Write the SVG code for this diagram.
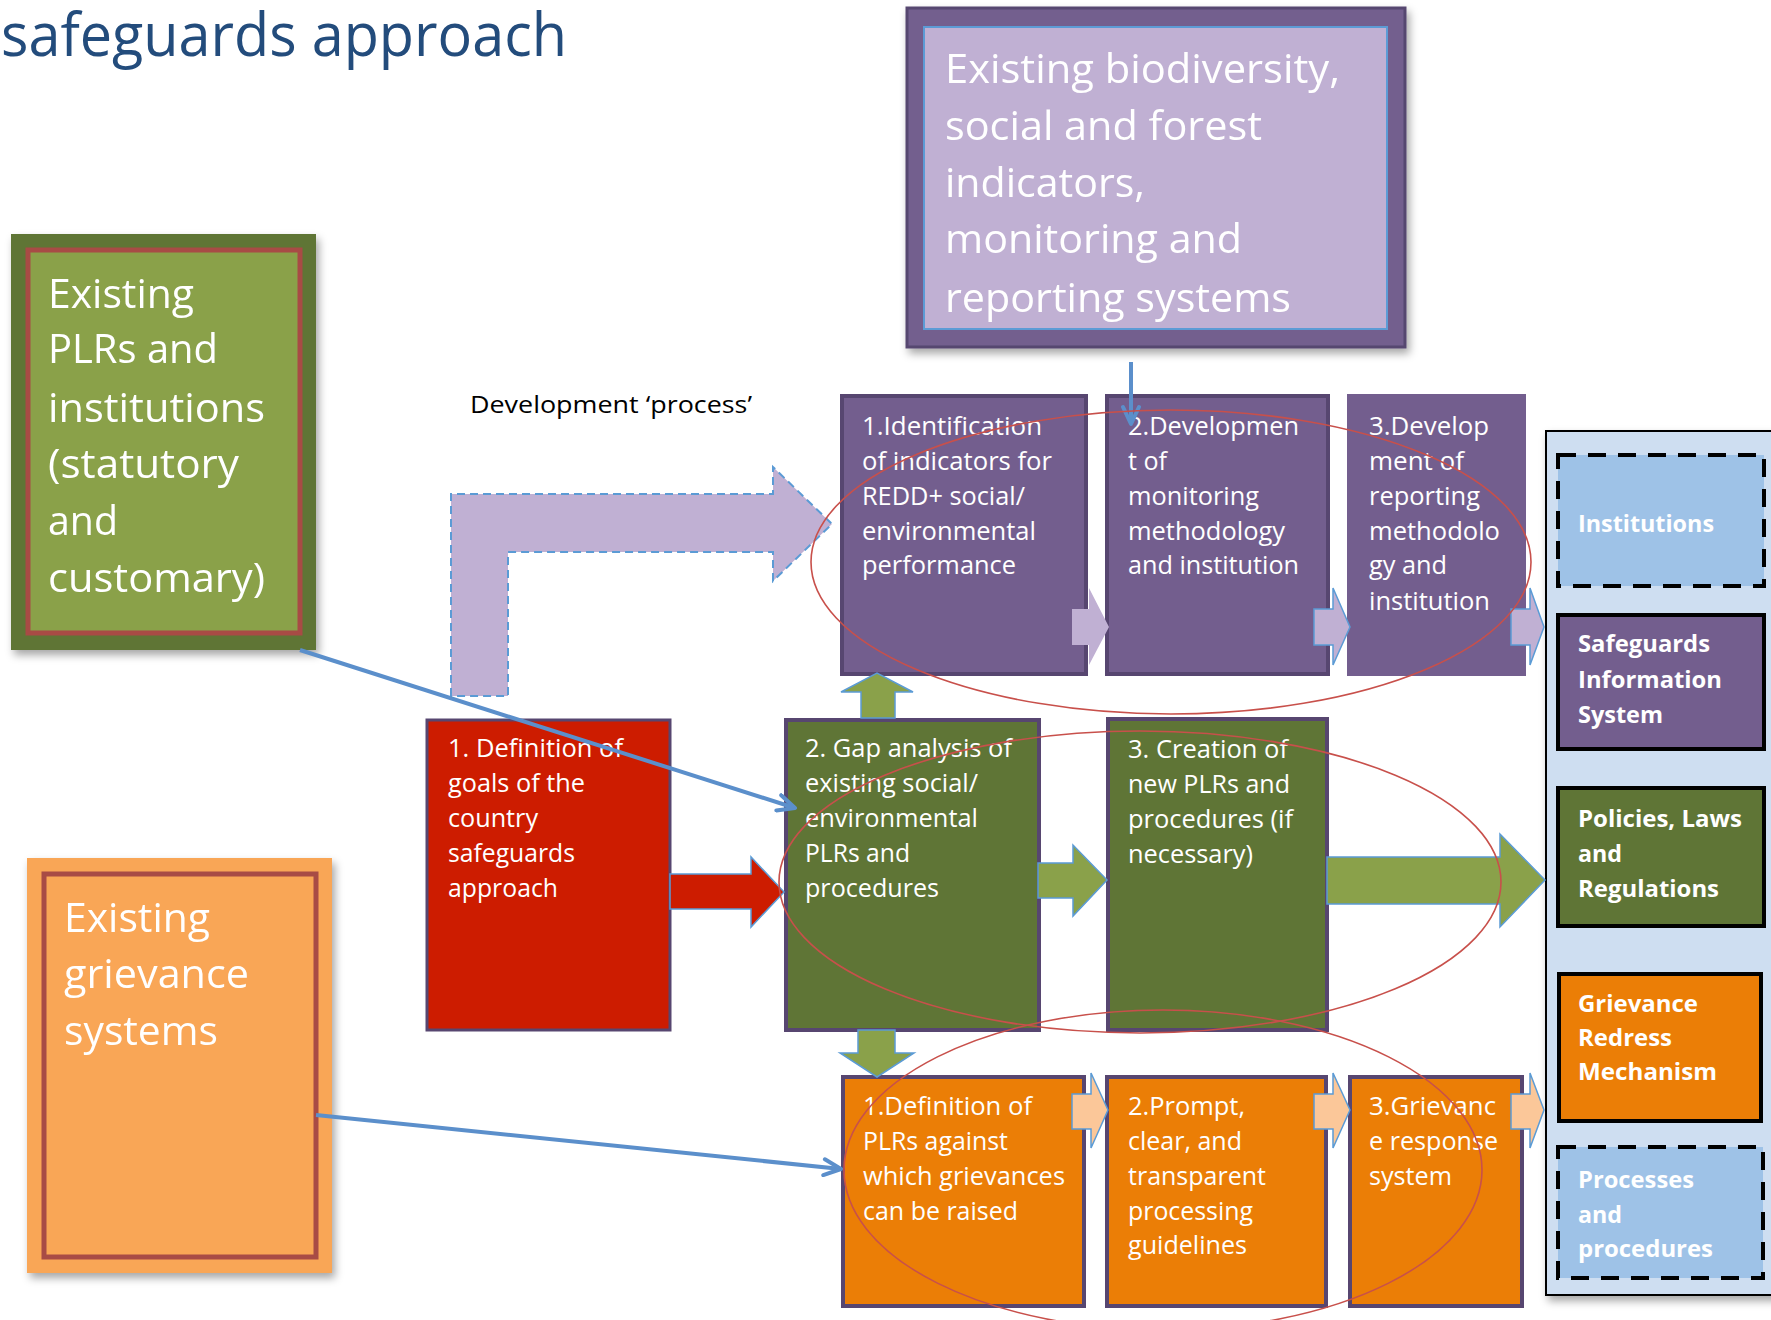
<svg xmlns="http://www.w3.org/2000/svg" width="1771" height="1320" viewBox="0 0 1771 1320">
<defs>
<filter id="sh" x="-10%" y="-10%" width="130%" height="130%"><feDropShadow dx="3" dy="5" stdDeviation="4" flood-color="#000" flood-opacity="0.35"/></filter>
<marker id="vh" markerUnits="userSpaceOnUse" markerWidth="24" markerHeight="20" viewBox="0 0 24 20" refX="20" refY="10" orient="auto"><path d="M3,2 L20,10 L3,18" fill="none" stroke="#5B8FCB" stroke-width="4" stroke-linejoin="round" stroke-linecap="round"/></marker>
</defs>
<style>
text{font-family:"Open Sans","Liberation Sans",sans-serif;fill:#fff}
.big{font-size:40px}
.t{font-size:26px}
.lg{font-size:24px;font-weight:bold}
.pbox{fill:#735E8E;stroke:#574670;stroke-width:4}
.gbox{fill:#5F7536;stroke:#574670;stroke-width:4}
.obox{fill:#EB7E06;stroke:#574670;stroke-width:4}
.parr{fill:#C0B0D3;stroke:#5B9BD5;stroke-width:1.5}
.garr{fill:#8AA14A;stroke:#5B9BD5;stroke-width:1.5}
.oarr{fill:#FBC799;stroke:#5B9BD5;stroke-width:1.5}
.ell{fill:none;stroke:#C8504B;stroke-width:1.6}
.blue{stroke:#5B8FCB;stroke-width:4;fill:none;marker-end:url(#vh)}
.leg{stroke:#000;stroke-width:4}
.dash{fill:#9EC2E7;stroke:#000;stroke-width:4;stroke-dasharray:18 12}
</style>
<rect width="1771" height="1320" fill="#fff"/>

<text id="title" x="1" y="56" style="font-size:60px;fill:#234C7C" textLength="566" lengthAdjust="spacingAndGlyphs">safeguards approach</text>

<g id="existing-indicators" filter="url(#sh)">
<rect x="907" y="8" width="498" height="339" fill="#735E8E" stroke="#574670" stroke-width="3"/>
<rect x="924" y="27" width="463" height="302" fill="#C0B0D3" stroke="#5B9BD5" stroke-width="2"/>
<text class="big" x="945" y="83" textLength="395" lengthAdjust="spacingAndGlyphs">Existing biodiversity,</text>
<text class="big" x="945" y="140" textLength="317" lengthAdjust="spacingAndGlyphs">social and forest</text>
<text class="big" x="945" y="197" textLength="200" lengthAdjust="spacingAndGlyphs">indicators,</text>
<text class="big" x="945" y="253" textLength="297" lengthAdjust="spacingAndGlyphs">monitoring and</text>
<text class="big" x="945" y="312" textLength="346" lengthAdjust="spacingAndGlyphs">reporting systems</text>
</g>

<g id="existing-plrs" filter="url(#sh)">
<rect x="11" y="234" width="305" height="416" fill="#5F7536"/>
<rect x="28" y="250" width="272" height="383" fill="#8AA14A" stroke="#A84B45" stroke-width="5"/>
<text class="big" x="48" y="308" textLength="146" lengthAdjust="spacingAndGlyphs">Existing</text>
<text class="big" x="48" y="363" textLength="170" lengthAdjust="spacingAndGlyphs">PLRs and</text>
<text class="big" x="48" y="422" textLength="217" lengthAdjust="spacingAndGlyphs">institutions</text>
<text class="big" x="48" y="478" textLength="191" lengthAdjust="spacingAndGlyphs">(statutory</text>
<text class="big" x="48" y="535" textLength="70" lengthAdjust="spacingAndGlyphs">and</text>
<text class="big" x="48" y="592" textLength="217" lengthAdjust="spacingAndGlyphs">customary)</text>
</g>

<g id="existing-grievance" filter="url(#sh)">
<rect x="27" y="858" width="305" height="415" fill="#F9A656"/>
<rect x="44" y="874" width="272" height="383" fill="#F9A656" stroke="#A84B45" stroke-width="5"/>
<text class="big" x="64" y="932" textLength="146" lengthAdjust="spacingAndGlyphs">Existing</text>
<text class="big" x="64" y="988" textLength="185" lengthAdjust="spacingAndGlyphs">grievance</text>
<text class="big" x="64" y="1045" textLength="154" lengthAdjust="spacingAndGlyphs">systems</text>
</g>

<text id="dev-process" x="470" y="413" style="font-size:23px;fill:#000" textLength="282" lengthAdjust="spacingAndGlyphs">Development ‘process’</text>

<g id="dev-arrow">
<path d="M451,696 L451,494 L773,494 L773,467 L832,524 L773,581 L773,552 L508,552 L508,696 Z" fill="#C0B0D3" stroke="#5B9BD5" stroke-width="2" stroke-dasharray="8 5"/>
</g>

<g id="p1">
<rect class="pbox" x="842" y="396" width="244" height="278"/>
<text class="t" x="862" y="435" textLength="180" lengthAdjust="spacingAndGlyphs">1.Identification</text>
<text class="t" x="862" y="470" textLength="190" lengthAdjust="spacingAndGlyphs">of indicators for</text>
<text class="t" x="862" y="505" textLength="163" lengthAdjust="spacingAndGlyphs">REDD+ social/</text>
<text class="t" x="862" y="540" textLength="174" lengthAdjust="spacingAndGlyphs">environmental</text>
<text class="t" x="862" y="574" textLength="154" lengthAdjust="spacingAndGlyphs">performance</text>
</g>
<g id="p2">
<rect class="pbox" x="1107" y="396" width="221" height="278"/>
<text class="t" x="1128" y="435" textLength="171" lengthAdjust="spacingAndGlyphs">2.Developmen</text>
<text class="t" x="1128" y="470" textLength="39" lengthAdjust="spacingAndGlyphs">t of</text>
<text class="t" x="1128" y="505" textLength="131" lengthAdjust="spacingAndGlyphs">monitoring</text>
<text class="t" x="1128" y="540" textLength="157" lengthAdjust="spacingAndGlyphs">methodology</text>
<text class="t" x="1128" y="574" textLength="171" lengthAdjust="spacingAndGlyphs">and institution</text>
</g>
<g id="p3">
<rect x="1347" y="394" width="179" height="282" fill="#735E8E"/>
<text class="t" x="1369" y="435" textLength="120" lengthAdjust="spacingAndGlyphs">3.Develop</text>
<text class="t" x="1369" y="470" textLength="95" lengthAdjust="spacingAndGlyphs">ment of</text>
<text class="t" x="1369" y="505" textLength="111" lengthAdjust="spacingAndGlyphs">reporting</text>
<text class="t" x="1369" y="540" textLength="131" lengthAdjust="spacingAndGlyphs">methodolo</text>
<text class="t" x="1369" y="574" textLength="78" lengthAdjust="spacingAndGlyphs">gy and</text>
<text class="t" x="1369" y="610" textLength="121" lengthAdjust="spacingAndGlyphs">institution</text>
</g>

<g id="g1">
<rect x="427" y="720" width="243" height="310" fill="#CD1C00" stroke="#574670" stroke-width="3"/>
<text class="t" x="448" y="757" textLength="175" lengthAdjust="spacingAndGlyphs">1. Definition of</text>
<text class="t" x="448" y="792" textLength="137" lengthAdjust="spacingAndGlyphs">goals of the</text>
<text class="t" x="448" y="827" textLength="90" lengthAdjust="spacingAndGlyphs">country</text>
<text class="t" x="448" y="862" textLength="127" lengthAdjust="spacingAndGlyphs">safeguards</text>
<text class="t" x="448" y="897" textLength="110" lengthAdjust="spacingAndGlyphs">approach</text>
</g>
<g id="g2">
<rect class="gbox" x="786" y="720" width="253" height="310"/>
<text class="t" x="805" y="757" textLength="207" lengthAdjust="spacingAndGlyphs">2. Gap analysis of</text>
<text class="t" x="805" y="792" textLength="173" lengthAdjust="spacingAndGlyphs">existing social/</text>
<text class="t" x="805" y="827" textLength="173" lengthAdjust="spacingAndGlyphs">environmental</text>
<text class="t" x="805" y="862" textLength="105" lengthAdjust="spacingAndGlyphs">PLRs and</text>
<text class="t" x="805" y="897" textLength="134" lengthAdjust="spacingAndGlyphs">procedures</text>
</g>
<g id="g3">
<rect class="gbox" x="1108" y="719" width="219" height="311"/>
<text class="t" x="1128" y="758" textLength="160" lengthAdjust="spacingAndGlyphs">3. Creation of</text>
<text class="t" x="1128" y="793" textLength="162" lengthAdjust="spacingAndGlyphs">new PLRs and</text>
<text class="t" x="1128" y="828" textLength="165" lengthAdjust="spacingAndGlyphs">procedures (if</text>
<text class="t" x="1128" y="863" textLength="125" lengthAdjust="spacingAndGlyphs">necessary)</text>
</g>

<g id="o1">
<rect class="obox" x="843" y="1077" width="241" height="229"/>
<text class="t" x="863" y="1115" textLength="169" lengthAdjust="spacingAndGlyphs">1.Definition of</text>
<text class="t" x="863" y="1150" textLength="145" lengthAdjust="spacingAndGlyphs">PLRs against</text>
<text class="t" x="863" y="1185" textLength="202" lengthAdjust="spacingAndGlyphs">which grievances</text>
<text class="t" x="863" y="1220" textLength="155" lengthAdjust="spacingAndGlyphs">can be raised</text>
</g>
<g id="o2">
<rect class="obox" x="1107" y="1077" width="219" height="229"/>
<text class="t" x="1128" y="1115" textLength="117" lengthAdjust="spacingAndGlyphs">2.Prompt,</text>
<text class="t" x="1128" y="1150" textLength="114" lengthAdjust="spacingAndGlyphs">clear, and</text>
<text class="t" x="1128" y="1185" textLength="138" lengthAdjust="spacingAndGlyphs">transparent</text>
<text class="t" x="1128" y="1220" textLength="125" lengthAdjust="spacingAndGlyphs">processing</text>
<text class="t" x="1128" y="1254" textLength="119" lengthAdjust="spacingAndGlyphs">guidelines</text>
</g>
<g id="o3">
<rect class="obox" x="1350" y="1077" width="172" height="229"/>
<text class="t" x="1369" y="1115" textLength="127" lengthAdjust="spacingAndGlyphs">3.Grievanc</text>
<text class="t" x="1369" y="1150" textLength="129" lengthAdjust="spacingAndGlyphs">e response</text>
<text class="t" x="1369" y="1185" textLength="83" lengthAdjust="spacingAndGlyphs">system</text>
</g>

<g id="legend">
<rect x="1546" y="431" width="240" height="864" fill="#CEDEF1" stroke="#000" stroke-width="2" filter="url(#sh)"/>
<g id="leg-institutions">
<rect class="dash" x="1558" y="455" width="206" height="131"/>
<text class="lg" x="1578" y="532" textLength="136" lengthAdjust="spacingAndGlyphs">Institutions</text>
</g>
<g id="leg-sis">
<rect class="leg" x="1558" y="615" width="206" height="134" fill="#735E8E"/>
<text class="lg" x="1578" y="652" textLength="132" lengthAdjust="spacingAndGlyphs">Safeguards</text>
<text class="lg" x="1578" y="688" textLength="144" lengthAdjust="spacingAndGlyphs">Information</text>
<text class="lg" x="1578" y="723" textLength="85" lengthAdjust="spacingAndGlyphs">System</text>
</g>
<g id="leg-plr">
<rect class="leg" x="1558" y="788" width="206" height="138" fill="#5F7536"/>
<text class="lg" x="1578" y="827" textLength="164" lengthAdjust="spacingAndGlyphs">Policies, Laws</text>
<text class="lg" x="1578" y="862" textLength="44" lengthAdjust="spacingAndGlyphs">and</text>
<text class="lg" x="1578" y="897" textLength="141" lengthAdjust="spacingAndGlyphs">Regulations</text>
</g>
<g id="leg-grm">
<rect class="leg" x="1559" y="974" width="202" height="147" fill="#EB7E06"/>
<text class="lg" x="1578" y="1012" textLength="120" lengthAdjust="spacingAndGlyphs">Grievance</text>
<text class="lg" x="1578" y="1046" textLength="94" lengthAdjust="spacingAndGlyphs">Redress</text>
<text class="lg" x="1578" y="1080" textLength="139" lengthAdjust="spacingAndGlyphs">Mechanism</text>
</g>
<g id="leg-processes">
<rect class="dash" x="1558" y="1147" width="205" height="131"/>
<text class="lg" x="1578" y="1188" textLength="116" lengthAdjust="spacingAndGlyphs">Processes</text>
<text class="lg" x="1578" y="1223" textLength="44" lengthAdjust="spacingAndGlyphs">and</text>
<text class="lg" x="1578" y="1257" textLength="135" lengthAdjust="spacingAndGlyphs">procedures</text>
</g>
</g>

<g id="connectors">
<path class="parr" style="stroke:none" d="M1072,609 L1089,609 L1089,588 L1109,627 L1089,665 L1089,645 L1072,645 Z"/>
<path class="parr" d="M1314,609 L1333,609 L1333,588 L1350,627 L1333,665 L1333,645 L1314,645 Z"/>
<path class="parr" d="M1511,609 L1530,609 L1530,588 L1544,627 L1530,665 L1530,645 L1511,645 Z"/>
<path class="oarr" d="M1072,1094 L1091,1094 L1091,1073 L1108,1110 L1091,1148 L1091,1129 L1072,1129 Z"/>
<path class="oarr" d="M1314,1094 L1333,1094 L1333,1073 L1350,1110 L1333,1148 L1333,1129 L1314,1129 Z"/>
<path class="oarr" d="M1511,1094 L1530,1094 L1530,1073 L1544,1110 L1530,1148 L1530,1129 L1511,1129 Z"/>
<path d="M670,874 L751,874 L751,857 L784,892 L751,927 L751,909 L670,909 Z" fill="#CD1C00" stroke="#5B9BD5" stroke-width="1.5"/>
<path class="garr" d="M1038,863 L1073,863 L1073,845 L1107,880 L1073,916 L1073,898 L1038,898 Z"/>
<path class="garr" d="M1327,857 L1500,857 L1500,834 L1545,880 L1500,927 L1500,904 L1327,904 Z"/>
<path class="garr" d="M861,718 L861,692 L841,692 L877,673 L913,692 L895,692 L895,718 Z"/>
<path class="garr" d="M858,1030 L858,1053 L840,1053 L877,1077 L914,1053 L895,1053 L895,1030 Z"/>
<path class="blue" d="M1131,362 L1131,424"/>
<path class="blue" d="M300,650 L795,808"/>
<path class="blue" d="M316,1115 L841,1169"/>
</g>

<g id="groupings">
<ellipse class="ell" cx="1171" cy="562" rx="360" ry="152"/>
<ellipse class="ell" cx="1140" cy="882" rx="361" ry="151"/>
<ellipse class="ell" cx="1163" cy="1170" rx="319" ry="160"/>
</g>
</svg>
